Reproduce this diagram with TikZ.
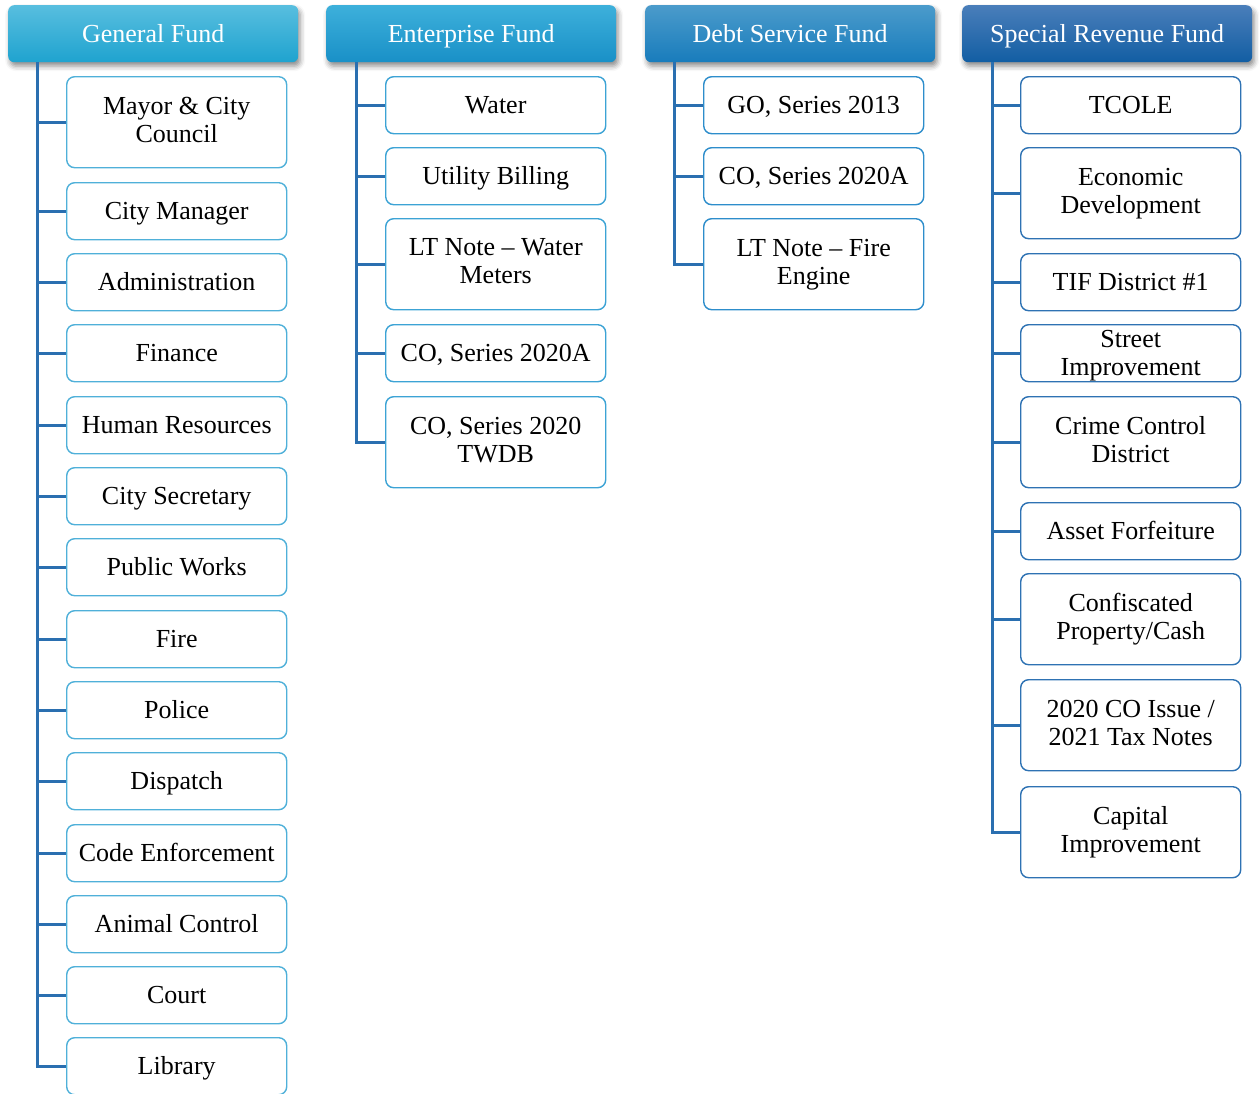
\documentclass[tikz,border=0pt]{standalone}
\usepackage{fontspec}
\setmainfont{Liberation Serif}
\usetikzlibrary{shadows.blur}
\definecolor{gfTop}{HTML}{58BEDF}
\definecolor{gfBot}{HTML}{1FA3CF}
\definecolor{efTop}{HTML}{3DB0DB}
\definecolor{efBot}{HTML}{1990C7}
\definecolor{dsTop}{HTML}{4B9BCB}
\definecolor{dsBot}{HTML}{187CBC}
\definecolor{srTop}{HTML}{4A7EBA}
\definecolor{srBot}{HTML}{125EA3}
\definecolor{gfEdge}{HTML}{4FB0D9}
\definecolor{efEdge}{HTML}{3CA3D5}
\definecolor{dsEdge}{HTML}{2D8DCB}
\definecolor{srEdge}{HTML}{2E72B3}
\definecolor{trunk}{HTML}{2A6FB0}
% strut balanced around the middle of the capitals
\newcommand{\capstrut}{\rule[-5.5pt]{0pt}{28pt}}
\tikzset{
  header/.style={rounded corners=6pt, minimum width=290, minimum height=57,
    anchor=north west, inner sep=0pt, text=white,
    font=\fontsize{26}{28}\selectfont,
    execute at begin node=\capstrut,
    blur shadow={shadow xshift=2pt, shadow yshift=-4pt, shadow blur radius=5pt, shadow opacity=45}},
  unit/.style={draw, line width=1.4pt, rounded corners=8pt, fill=white,
    minimum width=220, minimum height=57, anchor=north west, inner sep=0pt,
    align=center, font=\fontsize{26}{28}\selectfont,
    execute at begin node=\capstrut, execute at end node=\capstrut},
  link/.style={draw=trunk, line width=3pt},
}
\begin{document}
\begin{tikzpicture}[x=1pt, y=-1pt]
\useasboundingbox (0,0) rectangle (1259,1093);
\clip (0,0) rectangle (1259,1093);

% fund headers
\node[header, top color=gfTop, bottom color=gfBot] (gf) at (8,5) {General Fund};
\node[header, top color=efTop, bottom color=efBot] (ef) at (326,5) {Enterprise Fund};
\node[header, top color=dsTop, bottom color=dsBot] (ds) at (645,5) {Debt Service Fund};
\node[header, top color=srTop, bottom color=srBot] (sr) at (962,5) {Special Revenue Fund};

% trunk tops
\coordinate (gfT) at (37,62);
\coordinate (efT) at (356,62);
\coordinate (dsT) at (674,62);
\coordinate (srT) at (992,62);

% General Fund departments
\begin{scope}[every node/.append style={draw=gfEdge}]
\node[unit, minimum height=91] (g1) at (66,76) {Mayor \& City\\Council};
\node[unit] (g2) at (66,182) {City Manager};
\node[unit] (g3) at (66,253) {Administration};
\node[unit] (g4) at (66,324) {Finance};
\node[unit] (g5) at (66,396) {Human Resources};
\node[unit] (g6) at (66,467) {City Secretary};
\node[unit] (g7) at (66,538) {Public Works};
\node[unit] (g8) at (66,610) {Fire};
\node[unit] (g9) at (66,681) {Police};
\node[unit] (g10) at (66,752) {Dispatch};
\node[unit] (g11) at (66,824) {Code Enforcement};
\node[unit] (g12) at (66,895) {Animal Control};
\node[unit] (g13) at (66,966) {Court};
\node[unit] (g14) at (66,1037) {Library};
\end{scope}

% Enterprise Fund
\begin{scope}[every node/.append style={draw=efEdge}]
\node[unit] (e1) at (385,76) {Water};
\node[unit] (e2) at (385,147) {Utility Billing};
\node[unit, minimum height=91] (e3) at (385,218) {LT Note -- Water\\Meters};
\node[unit] (e4) at (385,324) {CO, Series 2020A};
\node[unit, minimum height=91] (e5) at (385,396) {CO, Series 2020\\TWDB};
\end{scope}

% Debt Service Fund
\begin{scope}[every node/.append style={draw=dsEdge}]
\node[unit] (d1) at (703,76) {GO, Series 2013};
\node[unit] (d2) at (703,147) {CO, Series 2020A};
\node[unit, minimum height=91] (d3) at (703,218) {LT Note -- Fire\\Engine};
\end{scope}

% Special Revenue Fund
\begin{scope}[every node/.append style={draw=srEdge}]
\node[unit] (s1) at (1020,76) {TCOLE};
\node[unit, minimum height=91] (s2) at (1020,147) {Economic\\Development};
\node[unit] (s3) at (1020,253) {TIF District \#1};
\node[unit, text depth=0pt, execute at begin node={}, execute at end node={}] (s4) at (1020,324) {Street\\Improvement};
\node[unit, minimum height=91] (s5) at (1020,396) {Crime Control\\District};
\node[unit] (s6) at (1020,502) {Asset Forfeiture};
\node[unit, minimum height=91] (s7) at (1020,573) {Confiscated\\Property/Cash};
\node[unit, minimum height=91] (s8) at (1020,679) {2020 CO Issue /\\2021 Tax Notes};
\node[unit, minimum height=91] (s9) at (1020,786) {Capital\\Improvement};
\end{scope}

% connectors: trunk down to the last unit, branches to the others
\draw[link] (gfT) |- (g14.west);
\foreach \n in {g1,g2,g3,g4,g5,g6,g7,g8,g9,g10,g11,g12,g13}
  \draw[link] (gfT |- \n.west) -- (\n.west);
\draw[link] (efT) |- (e5.west);
\foreach \n in {e1,e2,e3,e4}
  \draw[link] (efT |- \n.west) -- (\n.west);
\draw[link] (dsT) |- (d3.west);
\foreach \n in {d1,d2}
  \draw[link] (dsT |- \n.west) -- (\n.west);
\draw[link] (srT) |- (s9.west);
\foreach \n in {s1,s2,s3,s4,s5,s6,s7,s8}
  \draw[link] (srT |- \n.west) -- (\n.west);
\end{tikzpicture}
\end{document}
